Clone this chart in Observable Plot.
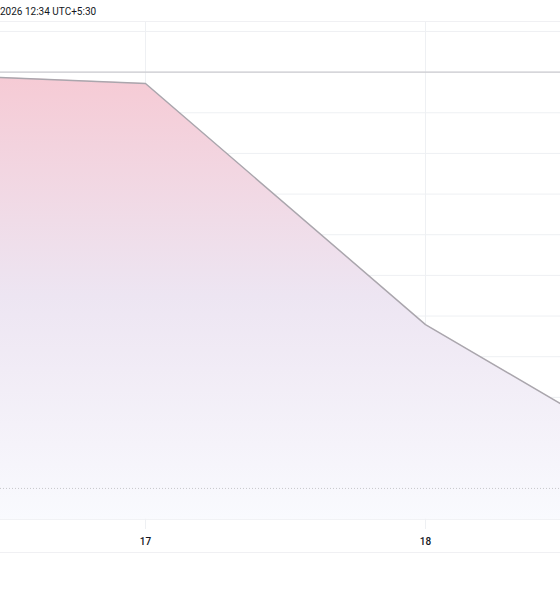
<!DOCTYPE html>
<html>
<head>
<meta charset="utf-8">
<script src="https://cdn.jsdelivr.net/npm/d3@7"></script>
<script src="https://cdn.jsdelivr.net/npm/@observablehq/plot@0.6"></script>
<style>
  html, body { margin: 0; padding: 0; background: #fff; overflow: hidden; width: 560px; height: 600px; }
  #hdr { height: 21px; border-bottom: 1px solid #f0f0f3; font-family: Roboto, "DejaVu Sans", sans-serif; font-size: 10px; color: #131722; line-height: 24px; padding-left: 0px; white-space: nowrap; }
  #chart svg { display: block; border-bottom: 1px solid #f0f0f3; }
</style>
</head>
<body>
<div id="hdr">2026 12:34 UTC+5:30</div>
<div id="chart"></div>
<script>
// Data (arbitrary price units; y axis labels are not visible in the reference)
const days = [16, 17, 18, 19];
const values = [11.0, 10.72, 4.79, 0.76];
const xTicks = [17, 18];
const yGrid = [0, 1, 2, 3, 4, 5, 6, 7, 8, 9, 10, 11, 12];
const baselineValue = values[0];
const lastValue = values[values.length - 1];

const data = days.map((d, i) => ({day: d, value: values[i]}));

const gradientDefs = () => {
  const ns = "http://www.w3.org/2000/svg";
  const defs = document.createElementNS(ns, "defs");
  const lg = document.createElementNS(ns, "linearGradient");
  lg.setAttribute("id", "areaGrad");
  lg.setAttribute("x1", "0"); lg.setAttribute("y1", "0");
  lg.setAttribute("x2", "0"); lg.setAttribute("y2", "1");
  [["0%", "#f6cad4"], ["50%", "#ede5f2"], ["100%", "#f9fafe"]].forEach(([o, c]) => {
    const s = document.createElementNS(ns, "stop");
    s.setAttribute("offset", o);
    s.setAttribute("stop-color", c);
    lg.appendChild(s);
  });
  defs.appendChild(lg);
  return defs;
};

const chart = Plot.plot({
  width: 560,
  height: 530,
  marginTop: 0,
  marginBottom: 23,
  marginLeft: 0,
  marginRight: 0,
  style: {fontFamily: "Roboto, DejaVu Sans, sans-serif", fontSize: "10px", color: "#131722", background: "#fff"},
  x: {domain: [17 - 145 / 280, 18 + 135 / 280], axis: null, label: null},
  y: {domain: [-0.25, 12.22], axis: null, label: null},
  marks: [
    gradientDefs,
    Plot.ruleY(yGrid, {stroke: "#eef0f3", strokeWidth: 1}),
    Plot.ruleX(xTicks, {stroke: "#eef0f3", strokeWidth: 1}),
    Plot.areaY(data, {x: "day", y: "value", fill: "url(#areaGrad)", clip: true}),
    Plot.ruleY([baselineValue], {stroke: "#c2c2c6", strokeWidth: 1}),
    Plot.ruleY([lastValue], {stroke: "#c6c6cb", strokeWidth: 1, strokeDasharray: "1,2"}),
    Plot.lineY(data, {x: "day", y: "value", stroke: "#aaa6ad", strokeWidth: 1.5, clip: true}),
    Plot.axisX(xTicks, {tickSize: 0, tickPadding: 8, label: null, tickFormat: d => String(d), fill: "#131722", fontWeight: 500})
  ]
});
document.getElementById("chart").appendChild(chart);
</script>
</body>
</html>
